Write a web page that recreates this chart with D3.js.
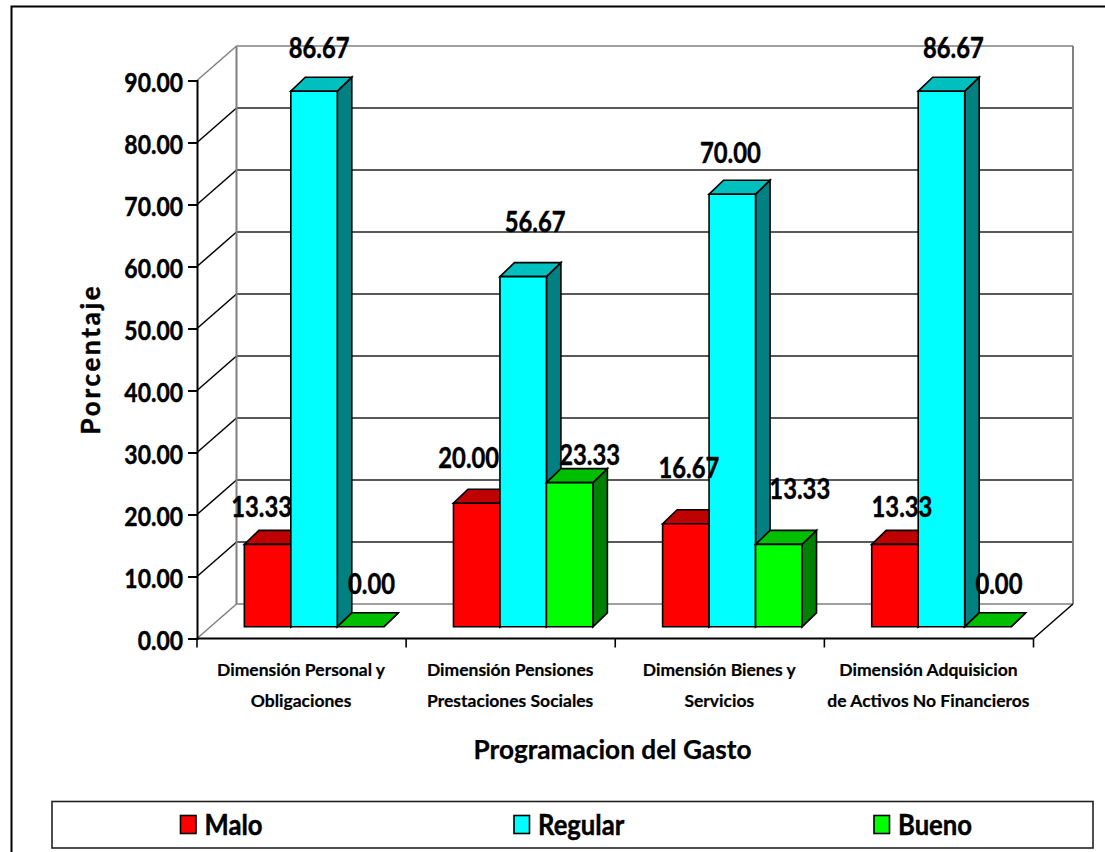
<!DOCTYPE html>
<html>
<head>
<meta charset="utf-8">
<script src="https://cdnjs.cloudflare.com/ajax/libs/d3/7.8.5/d3.min.js"></script>
<style>
html,body{margin:0;padding:0;background:#fff;overflow:hidden}
text{font-family:Lato,"Open Sans",sans-serif;font-weight:700;fill:#000;stroke:#000;stroke-width:.45px}
</style>
</head>
<body>
<svg id="chart" width="1105" height="852"></svg>
<script>
const categories = [
  ["Dimensión Personal y", "Obligaciones"],
  ["Dimensión Pensiones", "Prestaciones Sociales"],
  ["Dimensión Bienes y", "Servicios"],
  ["Dimensión Adquisicion", "de Activos No Financieros"]
];
const seriesNames = ["Malo", "Regular", "Bueno"];
const malo = [13.33, 20.00, 16.67, 13.33];
const regular = [86.67, 56.67, 70.00, 86.67];
const bueno = [0.00, 23.33, 13.33, 0.00];
const tickValues = [0, 10, 20, 30, 40, 50, 60, 70, 80, 90];

const seriesValues = [malo, regular, bueno];
const faceColors = ["#ff0000", "#00ffff", "#00ff00"];
const topColors = ["#bf0000", "#00bfbf", "#00bf00"];
const sideColors = ["#800000", "#008080", "#008000"];

// Hand-placed label offsets from each bar's top centre: [dx, baseline dy], by series then category
const labelOffsets = [
  [[-6, -27], [-8, -35], [3, -46], [7, -27]],
  [[5, -33], [12, -45], [-2, -31], [12, -33]],
  [[11, -33], [20, -18], [21, -45], [11, -33]]
];

const svg = d3.select("#chart");

// Oblique projection of the floor and walls
const depth = { x: 39.5, y: -34.5 };
const barDepth = { x: 14.5, y: -14 };

const y = d3.scaleLinear().domain([0, 90]).range([638.5, 80.5]);
// Bars stand part-way back on the floor, so their value scale is a little shorter
const barY = d3.scaleLinear().domain([0, 90]).range([626.8, 70.6]);
const x0 = d3.scaleBand().domain(d3.range(categories.length)).range([197, 1033.5]);
const seriesSpan = x0.bandwidth() * 2 / 3;
const x1 = d3.scaleBand().domain(d3.range(seriesNames.length)).range([0, seriesSpan]);
const barInsetX = 12.5;
const barX = (c, s) => x0(c) + (x0.bandwidth() - seriesSpan) / 2 + x1(s) + barInsetX;
const baseY = barY(0);

const line = d3.line();
const pts = a => line(a) + "Z";
const GREY = "#808080";

// Text narrowed horizontally around its anchor
function squeezed(sel, px, py, sx) {
  return sel.attr("transform", `translate(${px},${py}) scale(${sx},1)`);
}

// Outer frame
svg.append("path").attr("d", "M11.5 852V6.5H1105").attr("fill", "none").attr("stroke", "#000").attr("stroke-width", 2);

// Back wall and side wall gridlines
const [xL, xR] = x0.range();
const grid = svg.append("g");
tickValues.forEach(t => {
  const yy = y(t);
  const wallColor = t === 0 || t === 90 ? GREY : "#000";
  grid.append("path").attr("d", line([[xL, yy], [xL + depth.x, yy + depth.y]]))
    .attr("fill", "none").attr("stroke", wallColor).attr("stroke-width", 1.5);
  grid.append("path").attr("d", line([[xL + depth.x, yy + depth.y], [xR + depth.x, yy + depth.y]]))
    .attr("fill", "none").attr("stroke", wallColor === GREY ? GREY : "#222").attr("stroke-width", 1.7);
});
grid.append("path").attr("d", line([[xL + depth.x, y(0) + depth.y], [xL + depth.x, y(90) + depth.y]]))
  .attr("fill", "none").attr("stroke", GREY).attr("stroke-width", 2);
grid.append("path").attr("d", line([[xR + depth.x, y(0) + depth.y], [xR + depth.x, y(90) + depth.y]]))
  .attr("fill", "none").attr("stroke", GREY).attr("stroke-width", 2);
// Right floor edge
grid.append("path").attr("d", line([[xR, y(0)], [xR + depth.x, y(0) + depth.y]]))
  .attr("fill", "none").attr("stroke", "#000").attr("stroke-width", 1.5);

// 3D bars, drawn left to right within each group
const bars = svg.append("g").attr("stroke", "#000").attr("stroke-width", 1.6).attr("stroke-linejoin", "miter");
categories.forEach((_, c) => {
  seriesNames.forEach((_, s) => {
    const v = seriesValues[s][c];
    const l = barX(c, s), r = l + x1.bandwidth(), t = barY(v), b = baseY;
    const dx = barDepth.x, dy = barDepth.y;
    bars.append("path").attr("d", pts([[r, b], [r + dx, b + dy], [r + dx, t + dy], [r, t]])).attr("fill", sideColors[s]);
    bars.append("path").attr("d", pts([[l, t], [l + dx, t + dy], [r + dx, t + dy], [r, t]])).attr("fill", topColors[s]);
    if (v > 0) bars.append("path").attr("d", pts([[l, t], [r, t], [r, b], [l, b]])).attr("fill", faceColors[s]);
  });
});

// Value axis
const yAxis = svg.append("g").attr("transform", `translate(${xL},0)`)
  .call(d3.axisLeft(y).tickValues(tickValues).tickSize(9).tickFormat(d3.format(".2f")));
yAxis.select(".domain").attr("stroke", "#000").attr("stroke-width", 2);
yAxis.selectAll(".tick line").attr("stroke", "#000").attr("stroke-width", 2);
yAxis.selectAll("text").attr("x", null).attr("dy", null).attr("fill", "#000")
  .style("font-size", "27px").style("font-family", "Lato").style("font-weight", 700)
  .each(function () { squeezed(d3.select(this), -14, 11, 0.85); });

// Category axis
const xAxis = svg.append("g").attr("transform", `translate(0,${y(0)})`);
xAxis.append("line").attr("x1", xL).attr("x2", xR).attr("stroke", "#000").attr("stroke-width", 2.2);
d3.range(categories.length + 1).forEach(i => {
  const px = xL + i * x0.bandwidth();
  xAxis.append("line").attr("x1", px).attr("x2", px).attr("y1", 0).attr("y2", 9).attr("stroke", "#000").attr("stroke-width", 1.6);
});
categories.forEach((lines, c) => {
  const cx = x0(c) + x0.bandwidth() / 2 - 0.5;
  lines.forEach((txt, i) => {
    xAxis.append("text").attr("x", cx).attr("y", 37 + i * 31).attr("text-anchor", "middle")
      .style("font-size", "17.5px").style("stroke-width", ".2px").text(txt);
  });
});

// Axis titles
svg.append("text").attr("x", 612.5).attr("y", 759).attr("text-anchor", "middle").style("font-size", "26.2px").style("stroke-width", ".25px").text("Programacion del Gasto");
svg.append("text").attr("transform", "translate(100,359) rotate(-90)").attr("text-anchor", "middle")
  .style("font-size", "26px").style("letter-spacing", "2.7px").text("Porcentaje");

// Value labels
const labels = svg.append("g");
seriesNames.forEach((_, s) => categories.forEach((_, c) => {
  const v = seriesValues[s][c];
  const [dx, dy] = labelOffsets[s][c];
  squeezed(labels.append("text"), barX(c, s) + x1.bandwidth() / 2 + dx, barY(v) + dy, 0.85)
    .attr("text-anchor", "middle").style("font-size", "28px").text(d3.format(".2f")(v));
}));

// Legend
svg.append("rect").attr("x", 52).attr("y", 801.5).attr("width", 1041).attr("height", 46.5)
  .attr("fill", "#fff").attr("stroke", "#222").attr("stroke-width", 1.6);
const legendX = [180.5, 514, 874];
seriesNames.forEach((name, s) => {
  svg.append("rect").attr("x", legendX[s]).attr("y", 815.5).attr("width", 15.5).attr("height", 18)
    .attr("fill", faceColors[s]).attr("stroke", "#000").attr("stroke-width", 1.6);
  squeezed(svg.append("text"), legendX[s] + 24, 835, 0.9).style("font-size", "28.5px").text(name);
});
</script>
</body>
</html>
